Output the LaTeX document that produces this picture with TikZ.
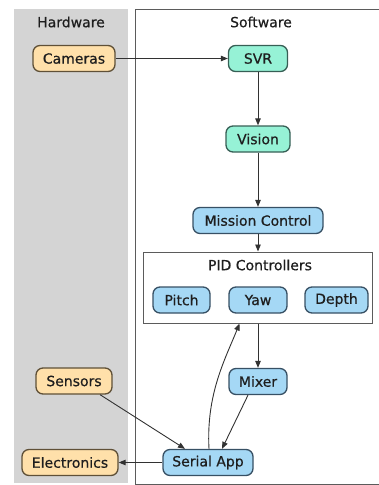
\documentclass[tikz,border=0pt]{standalone}
\usepackage{fontspec}
\setmainfont{DejaVu Sans}[FakeBold=0.6]
\usetikzlibrary{arrows.meta}
\definecolor{hwfill}{RGB}{255,224,170}
\definecolor{hwdraw}{RGB}{95,80,55}
\definecolor{mintfill}{RGB}{150,242,214}
\definecolor{mintdraw}{RGB}{55,95,85}
\definecolor{bluefill}{RGB}{165,216,245}
\definecolor{bluedraw}{RGB}{55,80,100}
\definecolor{panelgray}{RGB}{212,212,212}
\definecolor{txt}{RGB}{30,30,30}
\definecolor{edge}{RGB}{50,50,50}
\tikzset{
  base/.style={rounded corners=7pt, line width=1.3pt, minimum height=26pt,
    inner xsep=8.5pt, inner ysep=2pt, text=txt,
    font=\fontsize{14}{16}\selectfont},
  hw/.style={base, fill=hwfill, draw=hwdraw},
  mint/.style={base, fill=mintfill, draw=mintdraw},
  sw/.style={base, fill=bluefill, draw=bluedraw},
  lbl/.style={text=txt, font=\fontsize{14}{16}\selectfont, inner sep=0pt},
  conn/.style={draw=edge, line width=0.9pt, -{Triangle[length=7pt,width=5.5pt]}}
}
\begin{document}
\begin{tikzpicture}[x=1pt,y=-1pt]
\useasboundingbox (0,0) rectangle (378,485);
% panels
\fill[panelgray] (14,9) rectangle (128,483);
\draw[edge!80, line width=1pt] (400,9) -- (135,9) -- (135,484) -- (400,484);
\node[lbl] (hwlabel) at (71,22) {Hardware};
\node[lbl] (swlabel) at (261,22) {Software};
% PID box
\node[draw=edge!80, line width=1pt, minimum width=229pt, minimum height=71pt, inner sep=0pt] (pid) at (257.5,287.5) {};
\node[lbl] (pidlabel) at (260,265) {PID Controllers};
% nodes
\node[hw, minimum width=82pt] (cameras) at (74,58.5) {Cameras};
\node[hw, minimum width=76pt] (sensors) at (74,381) {Sensors};
\node[hw, minimum width=96pt] (electronics) at (70,462.5) {Electronics};
\node[mint, minimum width=59pt] (svr) at (258,58.5) {SVR};
\node[mint, minimum width=64pt] (vision) at (258,139) {Vision};
\node[sw, minimum width=130pt] (mission) at (258,220.5) {Mission Control};
\node[sw, minimum width=57pt] (pitch) at (181.5,300) {Pitch};
\node[sw, minimum width=58pt] (yaw) at (258,300) {Yaw};
\node[sw, minimum width=63pt] (depth) at (336.5,300) {Depth};
\node[sw, minimum width=58pt] (mixer) at (258,381.5) {Mixer};
\node[sw, minimum width=90pt] (serial) at (208,462.5) {Serial App};
% connectors
\draw[conn] (cameras) -- (svr);
\draw[conn] (svr) -- (vision);
\draw[conn] (vision) -- (mission);
\draw[conn] (mission) -- (mission.south |- pid.north);
\draw[conn] (mixer.north |- pid.south) -- (mixer);
\draw[conn] ([xshift=-10pt]mixer.south) -- ([xshift=14pt]serial.north);
\draw[conn] ([xshift=26pt]sensors.south) -- ([xshift=-23pt]serial.north);
\draw[conn] (serial) -- (electronics);
\coordinate (pidin) at ([xshift=-18pt]pid.south);
\draw[conn] ([xshift=1pt]serial.north) .. controls ([xshift=-2pt,yshift=55pt]serial.north) and ([xshift=-14pt,yshift=-35pt]pidin) .. (pidin);
\end{tikzpicture}
\end{document}
